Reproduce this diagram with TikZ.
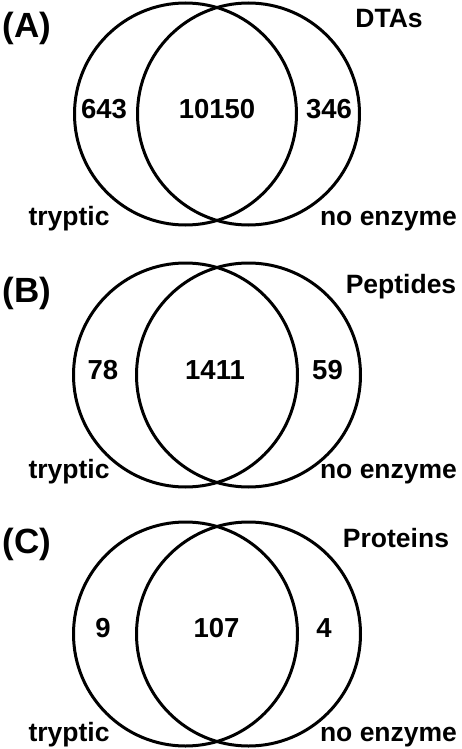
\documentclass[tikz,border=0pt]{standalone}
\usepackage{fontspec}
\setmainfont{Liberation Sans}
\tikzset{
  venn/.style={line width=3pt},
  count/.style={anchor=base, font=\bfseries\fontsize{27.5}{27.5}\selectfont},
  setname/.style={anchor=base, font=\bfseries\fontsize{26.5}{26.5}\selectfont},
  panel/.style={anchor=base, font=\bfseries\fontsize{35}{35}\selectfont}
}
\begin{document}
\begin{tikzpicture}[x=1pt,y=-1pt]

    \useasboundingbox (0,0) rectangle (462,749);

    % (A) DTAs
    \draw[venn] (185.5,114) circle (111);
    \draw[venn] (248.5,114) circle (111);
    \node[panel] (labA) at (27,38) {(A)};
    \node[setname] (kindA) at (389,28) {DTAs};
    \node[count] (onlyTA) at (104,118) {643};
    \node[count] (bothA) at (217,118) {10150};
    \node[count] (onlyNA) at (329,118) {346};
    \node[setname] (tryA) at (69,225) {tryptic};
    \node[setname] (noenzA) at (388.5,225) {no enzyme};

    % (B) Peptides
    \draw[venn] (185.5,375) circle (112);
    \draw[venn] (248.5,375) circle (112);
    \node[panel] (labB) at (27,302) {(B)};
    \node[setname] (kindB) at (401,293) {Peptides};
    \node[count] (onlyTB) at (103,379) {78};
    \node[count] (bothB) at (215,379) {1411};
    \node[count] (onlyNB) at (327.5,379) {59};
    \node[setname] (tryB) at (69,478) {tryptic};
    \node[setname] (noenzB) at (388.5,478) {no enzyme};

    % (C) Proteins
    \draw[venn] (185.5,634) circle (112);
    \draw[venn] (248.5,634) circle (112);
    \node[panel] (labC) at (27,553) {(C)};
    \node[setname] (kindC) at (396,547) {Proteins};
    \node[count] (onlyTC) at (103,637) {9};
    \node[count] (bothC) at (216.5,637) {107};
    \node[count] (onlyNC) at (324,637) {4};
    \node[setname] (tryC) at (69,741) {tryptic};
    \node[setname] (noenzC) at (388.5,741) {no enzyme};

\end{tikzpicture}
\end{document}
